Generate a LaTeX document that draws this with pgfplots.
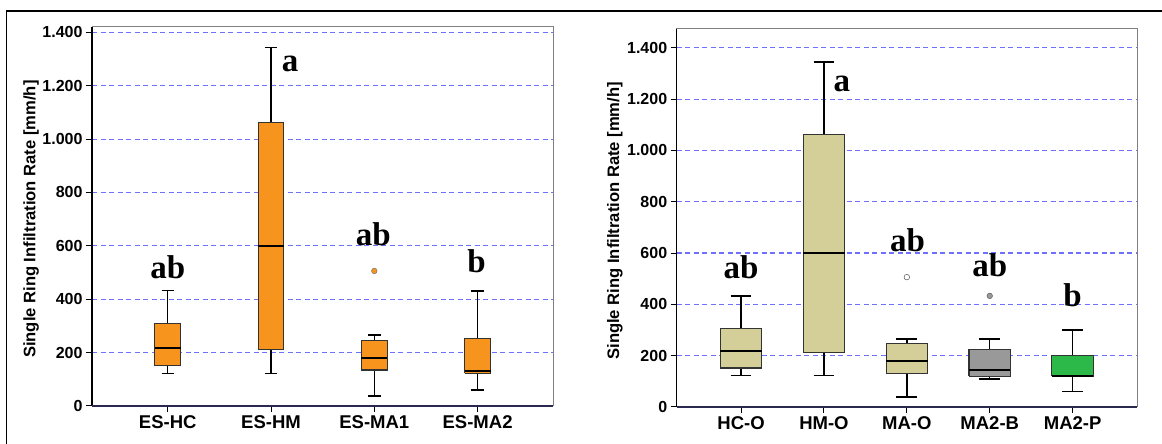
\documentclass[border=0pt]{standalone}
\usepackage{fontspec}
\setmainfont{Liberation Sans}
\newfontfamily\serifb{Liberation Serif}
\usepackage{pgfplots}
\pgfplotsset{compat=1.18}
\definecolor{org}{HTML}{F7941D}
\definecolor{tanc}{HTML}{D4CE99}
\definecolor{gry}{HTML}{999999}
\definecolor{grn}{HTML}{2DB84A}
\definecolor{gridblue}{HTML}{7070FF}
\definecolor{navy}{HTML}{2A2A50}
\pgfplotsset{
  panel/.style={
    scale only axis, clip=false,
    ymin=0, unbounded coords=jump,
    axis line style={draw=gray, line width=1pt},
    ymajorgrids,
    major grid style={gridblue, line width=1.1pt, dash pattern=on 5pt off 3.5pt},
    xtick pos=left, ytick pos=left,
    tick align=outside, major tick length=6pt,
    major tick style={black, line width=1pt},
    ytick={0,200,400,600,800,1000,1200,1400},
    yticklabels={0,200,400,600,800,1.000,1.200,1.400},
    yticklabel style={font=\bfseries\fontsize{16}{16}\selectfont},
    xticklabel style={font=\bfseries\fontsize{18.5}{18.5}\selectfont},
    ylabel={Single Ring Infiltration Rate [mm/h]},
    ylabel style={font=\bfseries\fontsize{16.6}{17}\selectfont, anchor=center},
  },
  boxs/.style={draw=black!80, line width=1.1pt, solid, mark=none, line join=miter},
  whs/.style={black, line width=1.5pt, solid, mark=none},
  meds/.style={black, line width=2pt, solid, mark=none},
  outl/.style={only marks, mark=*, mark size=2.8pt, mark options={line width=0.6pt}},
}
\tikzset{lt/.style={font=\serifb\bfseries\fontsize{33}{33}\selectfont, anchor=base, inner sep=0pt}}
\begin{document}
\begin{tikzpicture}
\useasboundingbox (0pt,0pt) rectangle (1162pt,444pt);
\draw[black, line width=1.8pt] (6.5pt,-10pt) -- (6.5pt,433.2pt) -- (1175pt,433.2pt);
% left panel
\begin{axis}[panel, at={(92pt,38pt)}, anchor=south west, width=461pt, height=379pt,
  xmin=-0.733, xmax=3.73, ymax=1420,
  xtick={0,1,2,3}, xticklabels={ES-HC,ES-HM,ES-MA1,ES-MA2},
  ylabel style={at={(axis description cs:-0.1323,0.493)}}]
% ES-HC
\addplot[whs] coordinates {(0,308)(0,432)(0,nan)(-0.06,432)(0.06,432)(0,nan)(0,151)(0,121)(0,nan)(-0.06,121)(0.06,121)};
\addplot[boxs, fill=org] coordinates {(-0.125,151)(0.125,151)(0.125,308)(-0.125,308)(-0.125,151)};
\addplot[meds] coordinates {(-0.125,217)(0.125,217)};
% ES-HM
\addplot[whs] coordinates {(1,1062)(1,1343)(1,nan)(0.94,1343)(1.06,1343)(1,nan)(1,211)(1,121)(1,nan)(0.94,121)(1.06,121)};
\addplot[boxs, fill=org] coordinates {(0.875,211)(1.125,211)(1.125,1062)(0.875,1062)(0.875,211)};
\addplot[meds] coordinates {(0.875,601)(1.125,601)};
% ES-MA1
\addplot[whs] coordinates {(2,246)(2,266)(2,nan)(1.94,266)(2.06,266)(2,nan)(2,135)(2,37)(2,nan)(1.94,37)(2.06,37)};
\addplot[boxs, fill=org] coordinates {(1.875,135)(2.125,135)(2.125,246)(1.875,246)(1.875,135)};
\addplot[meds] coordinates {(1.875,181)(2.125,181)};
\addplot[outl, mark options={fill=org, draw=black!60}] coordinates {(2,506)};
% ES-MA2
\addplot[whs] coordinates {(3,254)(3,431)(3,nan)(2.94,431)(3.06,431)(3,nan)(3,122)(3,60)(3,nan)(2.94,60)(3.06,60)};
\addplot[boxs, fill=org] coordinates {(2.875,122)(3.125,122)(3.125,254)(2.875,254)(2.875,122)};
\addplot[meds] coordinates {(2.875,132)(3.125,132)};
\node[lt] at (axis cs:0,478) {ab};
\node[lt] at (axis cs:1.184,1255) {a};
\node[lt] at (axis cs:1.99,602) {ab};
\node[lt] at (axis cs:2.99,502) {b};
\draw[black, line width=1.3pt] (rel axis cs:0,1) -- (rel axis cs:0,0);
\draw[navy, line width=1.3pt] (rel axis cs:0,0) -- (rel axis cs:1,0);
\end{axis}
% right panel
\begin{axis}[panel, at={(676.7pt,37pt)}, anchor=south west, width=460.6pt, height=378pt,
  xmin=-0.776, xmax=4.78, ymax=1473,
  xtick={0,1,2,3,4}, xticklabels={HC-O,HM-O,MA-O,MA2-B,MA2-P},
  ylabel style={at={(axis description cs:-0.134,0.4926)}}]
% HC-O
\addplot[whs] coordinates {(0,306)(0,433)(0,nan)(-0.125,433)(0.125,433)(0,nan)(0,152)(0,122)(0,nan)(-0.125,122)(0.125,122)};
\addplot[boxs, fill=tanc] coordinates {(-0.25,152)(0.25,152)(0.25,306)(-0.25,306)(-0.25,152)};
\addplot[meds] coordinates {(-0.25,218)(0.25,218)};
% HM-O
\addplot[whs] coordinates {(1,1063)(1,1344)(1,nan)(0.875,1344)(1.125,1344)(1,nan)(1,211)(1,122)(1,nan)(0.875,122)(1.125,122)};
\addplot[boxs, fill=tanc] coordinates {(0.75,211)(1.25,211)(1.25,1063)(0.75,1063)(0.75,211)};
\addplot[meds] coordinates {(0.75,601)(1.25,601)};
% MA-O
\addplot[whs] coordinates {(2,248)(2,265)(2,nan)(1.875,265)(2.125,265)(2,nan)(2,132)(2,39)(2,nan)(1.875,39)(2.125,39)};
\addplot[boxs, fill=tanc] coordinates {(1.75,132)(2.25,132)(2.25,248)(1.75,248)(1.75,132)};
\addplot[meds] coordinates {(1.75,181)(2.25,181)};
\addplot[outl, mark options={fill=white, draw=black!80}] coordinates {(2,506)};
% MA2-B
\addplot[whs] coordinates {(3,223)(3,265)(3,nan)(2.875,265)(3.125,265)(3,nan)(3,119)(3,110)(3,nan)(2.875,110)(3.125,110)};
\addplot[boxs, fill=gry] coordinates {(2.75,119)(3.25,119)(3.25,223)(2.75,223)(2.75,119)};
\addplot[meds] coordinates {(2.75,145)(3.25,145)};
\addplot[outl, mark options={fill=gry, draw=black!70}] coordinates {(3,433)};
% MA2-P
\addplot[whs] coordinates {(4,200)(4,301)(4,nan)(3.875,301)(4.125,301)(4,nan)(4,120)(4,61)(4,nan)(3.875,61)(4.125,61)};
\addplot[boxs, fill=grn] coordinates {(3.75,120)(4.25,120)(4.25,200)(3.75,200)(3.75,120)};
\addplot[meds] coordinates {(3.75,122)(4.25,122)};
\node[lt] at (axis cs:0,501) {ab};
\node[lt] at (axis cs:1.215,1229) {a};
\node[lt] at (axis cs:2.01,605) {ab};
\node[lt] at (axis cs:3.0,508) {ab};
\node[lt] at (axis cs:4.0,391) {b};
\draw[black, line width=1.3pt] (rel axis cs:0,1) -- (rel axis cs:0,0);
\draw[navy, line width=1.3pt] (rel axis cs:0,0) -- (rel axis cs:1,0);
\end{axis}
\end{tikzpicture}
\end{document}
